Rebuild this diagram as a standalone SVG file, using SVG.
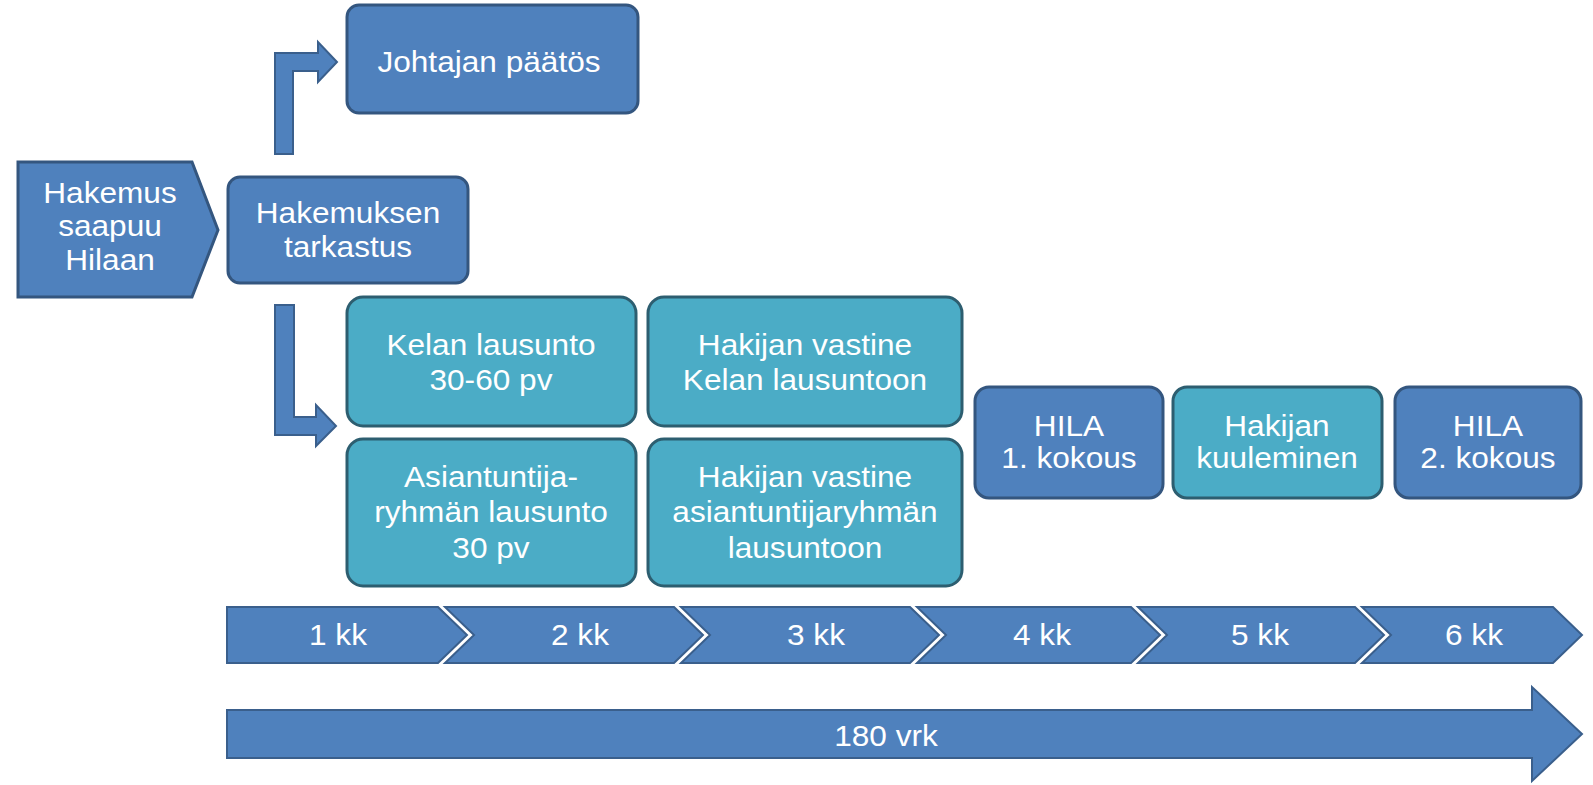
<svg xmlns="http://www.w3.org/2000/svg" width="1593" height="785" viewBox="0 0 1593 785">
<style>
.bg{fill:#ffffff}
.blue{fill:#4F81BD;stroke:#34567F;stroke-width:3}
.teal{fill:#4BACC6;stroke:#2D5E70;stroke-width:3}
.shape{fill:#4F81BD;stroke:#3A5F8C;stroke-width:2}
.t{font-family:"Liberation Sans",Arial,sans-serif;font-size:29px;fill:#ffffff;text-anchor:middle;transform-box:fill-box;transform-origin:center;transform:scaleX(1.09)}
</style>
<rect class="bg" x="0" y="0" width="1593" height="785"/>
<g id="connectors">
<path class="shape" d="M275,154 L275,53 L318,53 L318,42 L337,62 L318,82 L318,71 L293,71 L293,154 Z"/>
<path class="shape" d="M275,305 L275,435 L316,435 L316,446 L336,426 L316,405 L316,417 L294,417 L294,305 Z"/>
</g>
<g id="hakemus-saapuu">
<polygon class="blue" points="18,162 192,162 218,230 192,297 18,297"/>
<text class="t" x="110" y="203">Hakemus</text>
<text class="t" x="110" y="236">saapuu</text>
<text class="t" x="110" y="270">Hilaan</text>
</g>
<g id="hakemuksen-tarkastus">
<rect class="blue" x="228" y="177" width="240" height="106" rx="12"/>
<text class="t" x="348" y="223">Hakemuksen</text>
<text class="t" x="348" y="257">tarkastus</text>
</g>
<g id="johtajan-paatos">
<rect class="blue" x="347" y="5" width="291" height="108" rx="12"/>
<text class="t" x="489" y="72">Johtajan päätös</text>
</g>
<g id="kelan-lausunto">
<rect class="teal" x="347" y="297" width="289" height="129" rx="16"/>
<text class="t" x="491" y="355">Kelan lausunto</text>
<text class="t" x="491" y="390">30-60 pv</text>
</g>
<g id="hakijan-vastine-kela">
<rect class="teal" x="648" y="297" width="314" height="129" rx="16"/>
<text class="t" x="805" y="355">Hakijan vastine</text>
<text class="t" x="805" y="390">Kelan lausuntoon</text>
</g>
<g id="asiantuntija-lausunto">
<rect class="teal" x="347" y="439" width="289" height="147" rx="16"/>
<text class="t" x="491" y="487">Asiantuntija-</text>
<text class="t" x="491" y="522">ryhmän lausunto</text>
<text class="t" x="491" y="558">30 pv</text>
</g>
<g id="hakijan-vastine-asiantuntija">
<rect class="teal" x="648" y="439" width="314" height="147" rx="16"/>
<text class="t" x="805" y="487">Hakijan vastine</text>
<text class="t" x="805" y="522">asiantuntijaryhmän</text>
<text class="t" x="805" y="558">lausuntoon</text>
</g>
<g id="hila-1">
<rect class="blue" x="975" y="387" width="188" height="111" rx="14"/>
<text class="t" x="1069" y="436">HILA</text>
<text class="t" x="1069" y="468">1. kokous</text>
</g>
<g id="hakijan-kuuleminen">
<rect class="teal" x="1173" y="387" width="209" height="111" rx="14"/>
<text class="t" x="1277" y="436">Hakijan</text>
<text class="t" x="1277" y="468">kuuleminen</text>
</g>
<g id="hila-2">
<rect class="blue" x="1395" y="387" width="186" height="111" rx="14"/>
<text class="t" x="1488" y="436">HILA</text>
<text class="t" x="1488" y="468">2. kokous</text>
</g>
<g id="kk-1">
<polygon class="shape" points="227,607 438,607 467,635 438,663 227,663"/>
<text class="t" x="338" y="645">1 kk</text>
</g>
<g id="kk-2">
<polygon class="shape" points="445,607 674,607 703,635 674,663 445,663 474,635"/>
<text class="t" x="580" y="645">2 kk</text>
</g>
<g id="kk-3">
<polygon class="shape" points="681,607 910,607 939,635 910,663 681,663 710,635"/>
<text class="t" x="816" y="645">3 kk</text>
</g>
<g id="kk-4">
<polygon class="shape" points="917,607 1131,607 1160,635 1131,663 917,663 946,635"/>
<text class="t" x="1042" y="645">4 kk</text>
</g>
<g id="kk-5">
<polygon class="shape" points="1138,607 1355,607 1384,635 1355,663 1138,663 1167,635"/>
<text class="t" x="1260" y="645">5 kk</text>
</g>
<g id="kk-6">
<polygon class="shape" points="1362,607 1553,607 1582,635 1553,663 1362,663 1391,635"/>
<text class="t" x="1474" y="645">6 kk</text>
</g>
<g id="vrk-180">
<polygon class="shape" points="227,710 1532,710 1532,687 1582,734 1532,781 1532,758 227,758"/>
<text class="t" x="886" y="746">180 vrk</text>
</g>
</svg>
